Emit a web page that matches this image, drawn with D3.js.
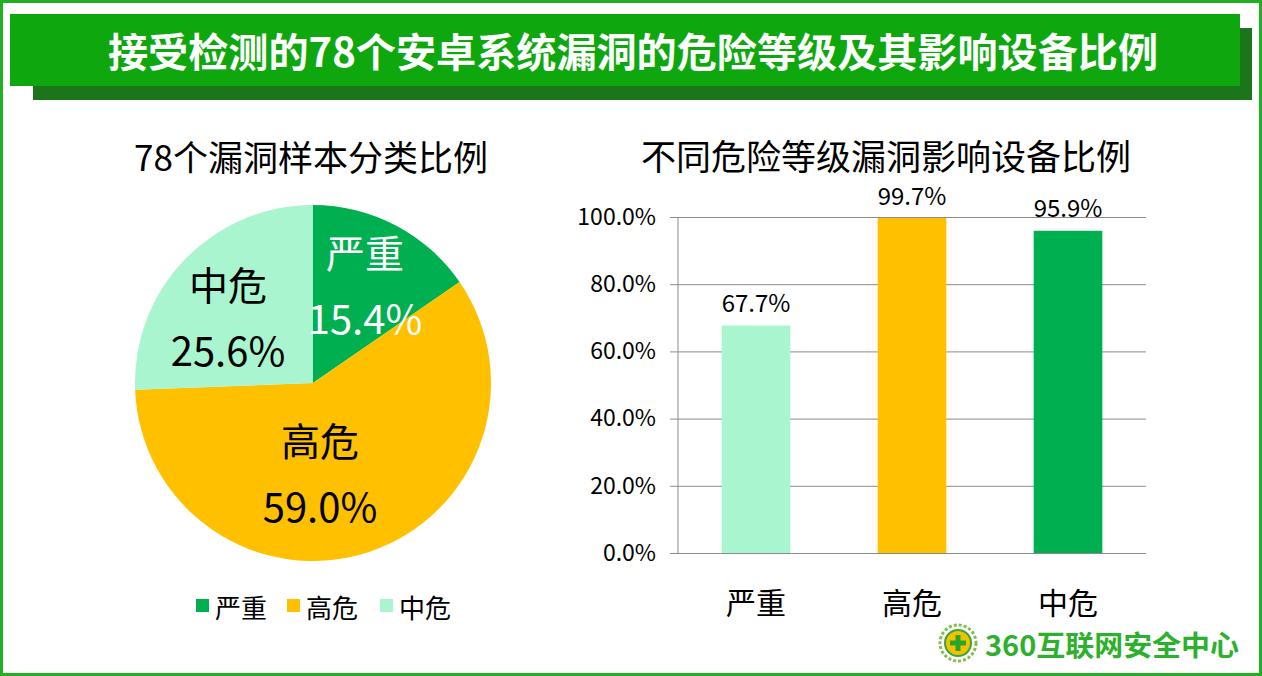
<!DOCTYPE html>
<html>
<head>
<meta charset="utf-8">
<script src="https://cdn.jsdelivr.net/npm/d3@7"></script>
<style>
  body { margin: 0; background: #fff; }
  svg { display: block; font-family: "Noto Sans CJK SC", "Noto Sans", sans-serif; }
</style>
</head>
<body>
<div id="chart"></div>
<script>
// data
const pieCats = ["严重", "高危", "中危"];
const pieVals = [15.4, 59.0, 25.6];
const barCats = ["严重", "高危", "中危"];
const barVals = [67.7, 99.7, 95.9];
const yTicks = [0, 20, 40, 60, 80, 100];

const colors = { "严重": "#00b050", "高危": "#ffc000", "中危": "#a9f5cf" };
const barColors = ["#a9f5cf", "#ffc000", "#00b050"];

var W = 1262, H = 676;
var svg = d3.select("#chart").append("svg")
  .attr("width", W).attr("height", H);

// outer frame
svg.append("rect").attr("x", 1.5).attr("y", 1.5)
  .attr("width", W - 3).attr("height", H - 3)
  .attr("fill", "#fff").attr("stroke", "#22b022").attr("stroke-width", 3);

// title banner with shadow
svg.append("rect").attr("x", 33).attr("y", 28).attr("width", 1219).attr("height", 72).attr("fill", "#1b761b");
svg.append("rect").attr("x", 10).attr("y", 14).attr("width", 1230).attr("height", 72).attr("fill", "#0ea80e");
svg.append("text").attr("x", 633).attr("y", 50)
  .attr("text-anchor", "middle").attr("dominant-baseline", "central")
  .attr("fill", "#fff").attr("font-size", 40).attr("font-weight", "bold")
  .attr("textLength", 1050).attr("lengthAdjust", "spacingAndGlyphs")
  .text("接受检测的78个安卓系统漏洞的危险等级及其影响设备比例");

// ---- pie ----
var cx = 313, cy = 383, r = 178;
svg.append("text").attr("x", 311).attr("y", 155)
  .attr("text-anchor", "middle").attr("dominant-baseline", "central")
  .attr("font-size", 35).attr("fill", "#000").text("78个漏洞样本分类比例");

var pieData = pieCats.map((c, i) => ({ cat: c, val: pieVals[i] }));
var arcs = d3.pie().value(d => d.val).sort(null)(pieData);
var arc = d3.arc().innerRadius(0).outerRadius(r);
var gPie = svg.append("g").attr("transform", "translate(" + cx + "," + cy + ")");
gPie.selectAll("path").data(arcs).enter().append("path")
  .attr("d", arc).attr("fill", d => colors[d.data.cat]);

// label positions (offsets from center)
var labelPos = { "严重": [52, -132], "高危": [7, 56], "中危": [-85, -100] };
var labelCol = { "严重": "#fff", "高危": "#000", "中危": "#000" };
arcs.forEach(function (d) {
  var p = labelPos[d.data.cat];
  gPie.append("text").attr("x", p[0]).attr("y", p[1])
    .attr("text-anchor", "middle").attr("dominant-baseline", "central")
    .attr("font-size", 39).attr("fill", labelCol[d.data.cat]).text(d.data.cat);
  gPie.append("text").attr("x", p[0]).attr("y", p[1] + 66)
    .attr("text-anchor", "middle").attr("dominant-baseline", "central")
    .attr("font-size", 40).attr("fill", labelCol[d.data.cat]).text(d.data.val.toFixed(1) + "%");
});

// legend
var legX = [196, 287, 380];
pieCats.forEach(function (c, i) {
  svg.append("rect").attr("x", legX[i]).attr("y", 599).attr("width", 13).attr("height", 13).attr("fill", colors[c]);
  svg.append("text").attr("x", legX[i] + 19).attr("y", 606)
    .attr("dominant-baseline", "central").attr("font-size", 26).attr("fill", "#000").text(c);
});

// ---- bar chart ----
svg.append("text").attr("x", 886).attr("y", 154)
  .attr("text-anchor", "middle").attr("dominant-baseline", "central")
  .attr("font-size", 35).attr("fill", "#000").text("不同危险等级漏洞影响设备比例");

var x0 = 678, x1 = 1146, yBot = 553, yTop = 217;
var x = d3.scaleBand().domain(barCats).range([x0, x1]).paddingInner(0.56).paddingOuter(0.28);
var y = d3.scaleLinear().domain([0, 100]).range([yBot, yTop]);

var gB = svg.append("g");
gB.append("g").attr("transform", "translate(" + x0 + ",0)")
  .call(d3.axisLeft(y).tickValues(yTicks).tickSize(x0 - x1).tickSizeOuter(0).tickFormat(""))
  .call(g => g.select(".domain").remove())
  .call(g => g.selectAll("line").attr("stroke", "#8c8c8c"));
// tick marks + labels
gB.append("g").attr("transform", "translate(" + x0 + ",0)")
  .call(d3.axisLeft(y).tickValues(yTicks).tickSize(8).tickPadding(14).tickFormat(d => d.toFixed(1) + "%"))
  .call(g => g.select(".domain").attr("stroke", "#8c8c8c").attr("d", "M0," + yTop + "V" + yBot))
  .call(g => g.selectAll("line").attr("stroke", "#8c8c8c"))
  .call(g => g.selectAll("text").attr("font-size", 23).attr("fill", "#000")
    .attr("font-family", "'Noto Sans CJK SC', sans-serif"));

gB.selectAll("rect.bar").data(barVals).enter().append("rect")
  .attr("class", "bar")
  .attr("x", (d, i) => x(barCats[i]))
  .attr("y", d => y(d))
  .attr("width", x.bandwidth())
  .attr("height", d => yBot - y(d))
  .attr("fill", (d, i) => barColors[i]);

gB.selectAll("text.val").data(barVals).enter().append("text")
  .attr("class", "val")
  .attr("x", (d, i) => x(barCats[i]) + x.bandwidth() / 2)
  .attr("y", d => y(d) - 24)
  .attr("text-anchor", "middle").attr("dominant-baseline", "central")
  .attr("font-size", 24).attr("fill", "#000")
  .text(d => d.toFixed(1) + "%");

gB.selectAll("text.cat").data(barCats).enter().append("text")
  .attr("class", "cat")
  .attr("x", d => x(d) + x.bandwidth() / 2)
  .attr("y", 601)
  .attr("text-anchor", "middle").attr("dominant-baseline", "central")
  .attr("font-size", 30).attr("fill", "#000").text(d => d);

// ---- logo ----
var logo = svg.append("g").attr("transform", "translate(958,643)");
logo.append("circle").attr("r", 18).attr("fill", "none").attr("stroke", "#7fbf4a").attr("stroke-width", 3).attr("stroke-dasharray", "3,2");
logo.append("circle").attr("r", 13).attr("fill", "#f2c200").attr("stroke", "#3aa53a").attr("stroke-width", 2);
logo.append("path").attr("d", "M-2.5,-8H2.5V-2.5H8V2.5H2.5V8H-2.5V2.5H-8V-2.5H-2.5Z").attr("fill", "#2aa52a");
svg.append("text").attr("x", 985).attr("y", 644)
  .attr("dominant-baseline", "central").attr("font-size", 28).attr("font-weight", "bold")
  .attr("fill", "#2db12d").attr("textLength", 254).attr("lengthAdjust", "spacingAndGlyphs")
  .text("360互联网安全中心");
</script>
</body>
</html>
